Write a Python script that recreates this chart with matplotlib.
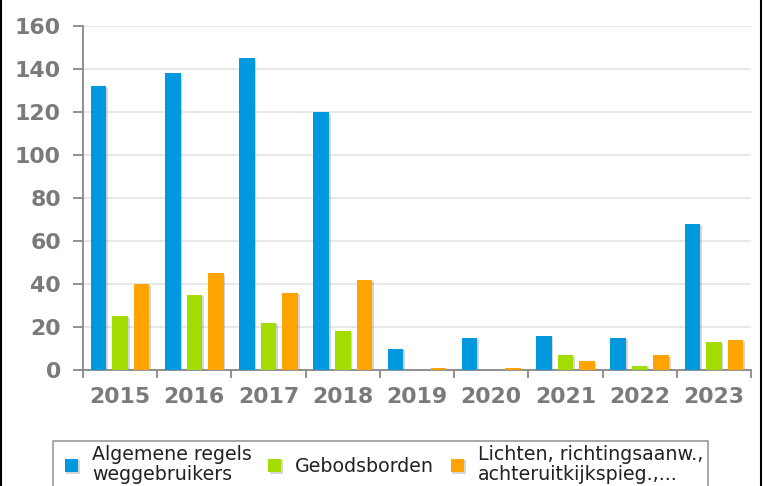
import matplotlib
matplotlib.use("Agg")
import matplotlib.pyplot as plt
import matplotlib.patheffects as pe
from matplotlib.lines import Line2D
from matplotlib.patches import Rectangle
from matplotlib.ticker import FixedLocator, MultipleLocator
import numpy as np

jaren = ["2015", "2016", "2017", "2018", "2019", "2020", "2021", "2022", "2023"]
algemene_regels = [132, 138, 145, 120, 10, 15, 16, 15, 68]
gebodsborden = [25, 35, 22, 18, 0, 0, 7, 2, 13]
lichten = [40, 45, 36, 42, 1, 1, 4, 7, 14]

reeksen = ["Algemene regels\nweggebruikers", "Gebodsborden",
           "Lichten, richtingsaanw.,\nachteruitkijkspieg.,..."]
kleuren = ["#0098de", "#a2dc00", "#ffa400"]

W, H = 765, 486
fig = plt.figure(figsize=(W / 100, H / 100), dpi=100)
ax = fig.add_axes([83 / W, 1 - 370 / H, (751 - 83) / W, (370 - 26) / H])

x = np.arange(len(jaren))
schaduw = [pe.SimplePatchShadow(offset=(1.2, -1.2), shadow_rgbFace="#888888", alpha=0.35), pe.Normal()]
for k, (vals, kl) in enumerate(zip([algemene_regels, gebodsborden, lichten], kleuren)):
    bars = ax.bar(x + (k - 1) * 0.29, vals, width=0.21, color=kl, label=reeksen[k], zorder=3)
    for b, v in zip(bars, vals):
        if v > 0:
            b.set_path_effects(schaduw)

ax.set_xlim(-0.5, len(jaren) - 0.5)
ax.set_ylim(0, 160)
ax.yaxis.set_major_locator(MultipleLocator(20))
ax.grid(axis="y", color="#e8e8e8", linewidth=1.4, zorder=0)
ax.set_axisbelow(True)

for s in ["top", "right"]:
    ax.spines[s].set_visible(False)
for s in ["left", "bottom"]:
    ax.spines[s].set_color("#888888")
    ax.spines[s].set_linewidth(1.3)

ax.set_xticks(x)
ax.set_xticklabels(jaren)
ax.xaxis.set_minor_locator(FixedLocator(np.arange(len(jaren) + 1) - 0.5))
ax.tick_params(axis="x", which="major", length=0, pad=12)
ax.tick_params(axis="x", which="minor", length=6, width=1.3, color="#888888")
ax.tick_params(axis="y", length=7, width=1.3, color="#888888", pad=9)
for lab in ax.get_xticklabels() + ax.get_yticklabels():
    lab.set_fontsize(15.8)
    lab.set_fontweight("bold")
    lab.set_color("#7a7a7a")

# legenda zonder eigen kader; kader apart getekend (loopt onder de rand door)
leg = fig.legend(loc="upper left", bbox_to_anchor=(61 / W, 1 - 441 / H), ncol=3,
                 fontsize=13.65, frameon=False,
                 handlelength=0.7, handleheight=0.7, handletextpad=0.72,
                 columnspacing=0.88, borderpad=0.2, labelspacing=0.2, borderaxespad=0)
for t in leg.get_texts():
    t.set_linespacing(1.1)
    t.set_color("#222222")
fig.add_artist(Rectangle((53 / W, -0.05), (708 - 53) / W, 0.05 + 1 - 441 / H,
                         transform=fig.transFigure, fill=False,
                         edgecolor="#999999", linewidth=1.2))

# zwarte zijranden
fig.add_artist(Line2D([1 / W, 1 / W], [0, 1], color="black", linewidth=1.5))
fig.add_artist(Line2D([761 / W, 761 / W], [0, 1], color="black", linewidth=1.5))

fig.savefig("out.png", dpi=100)
